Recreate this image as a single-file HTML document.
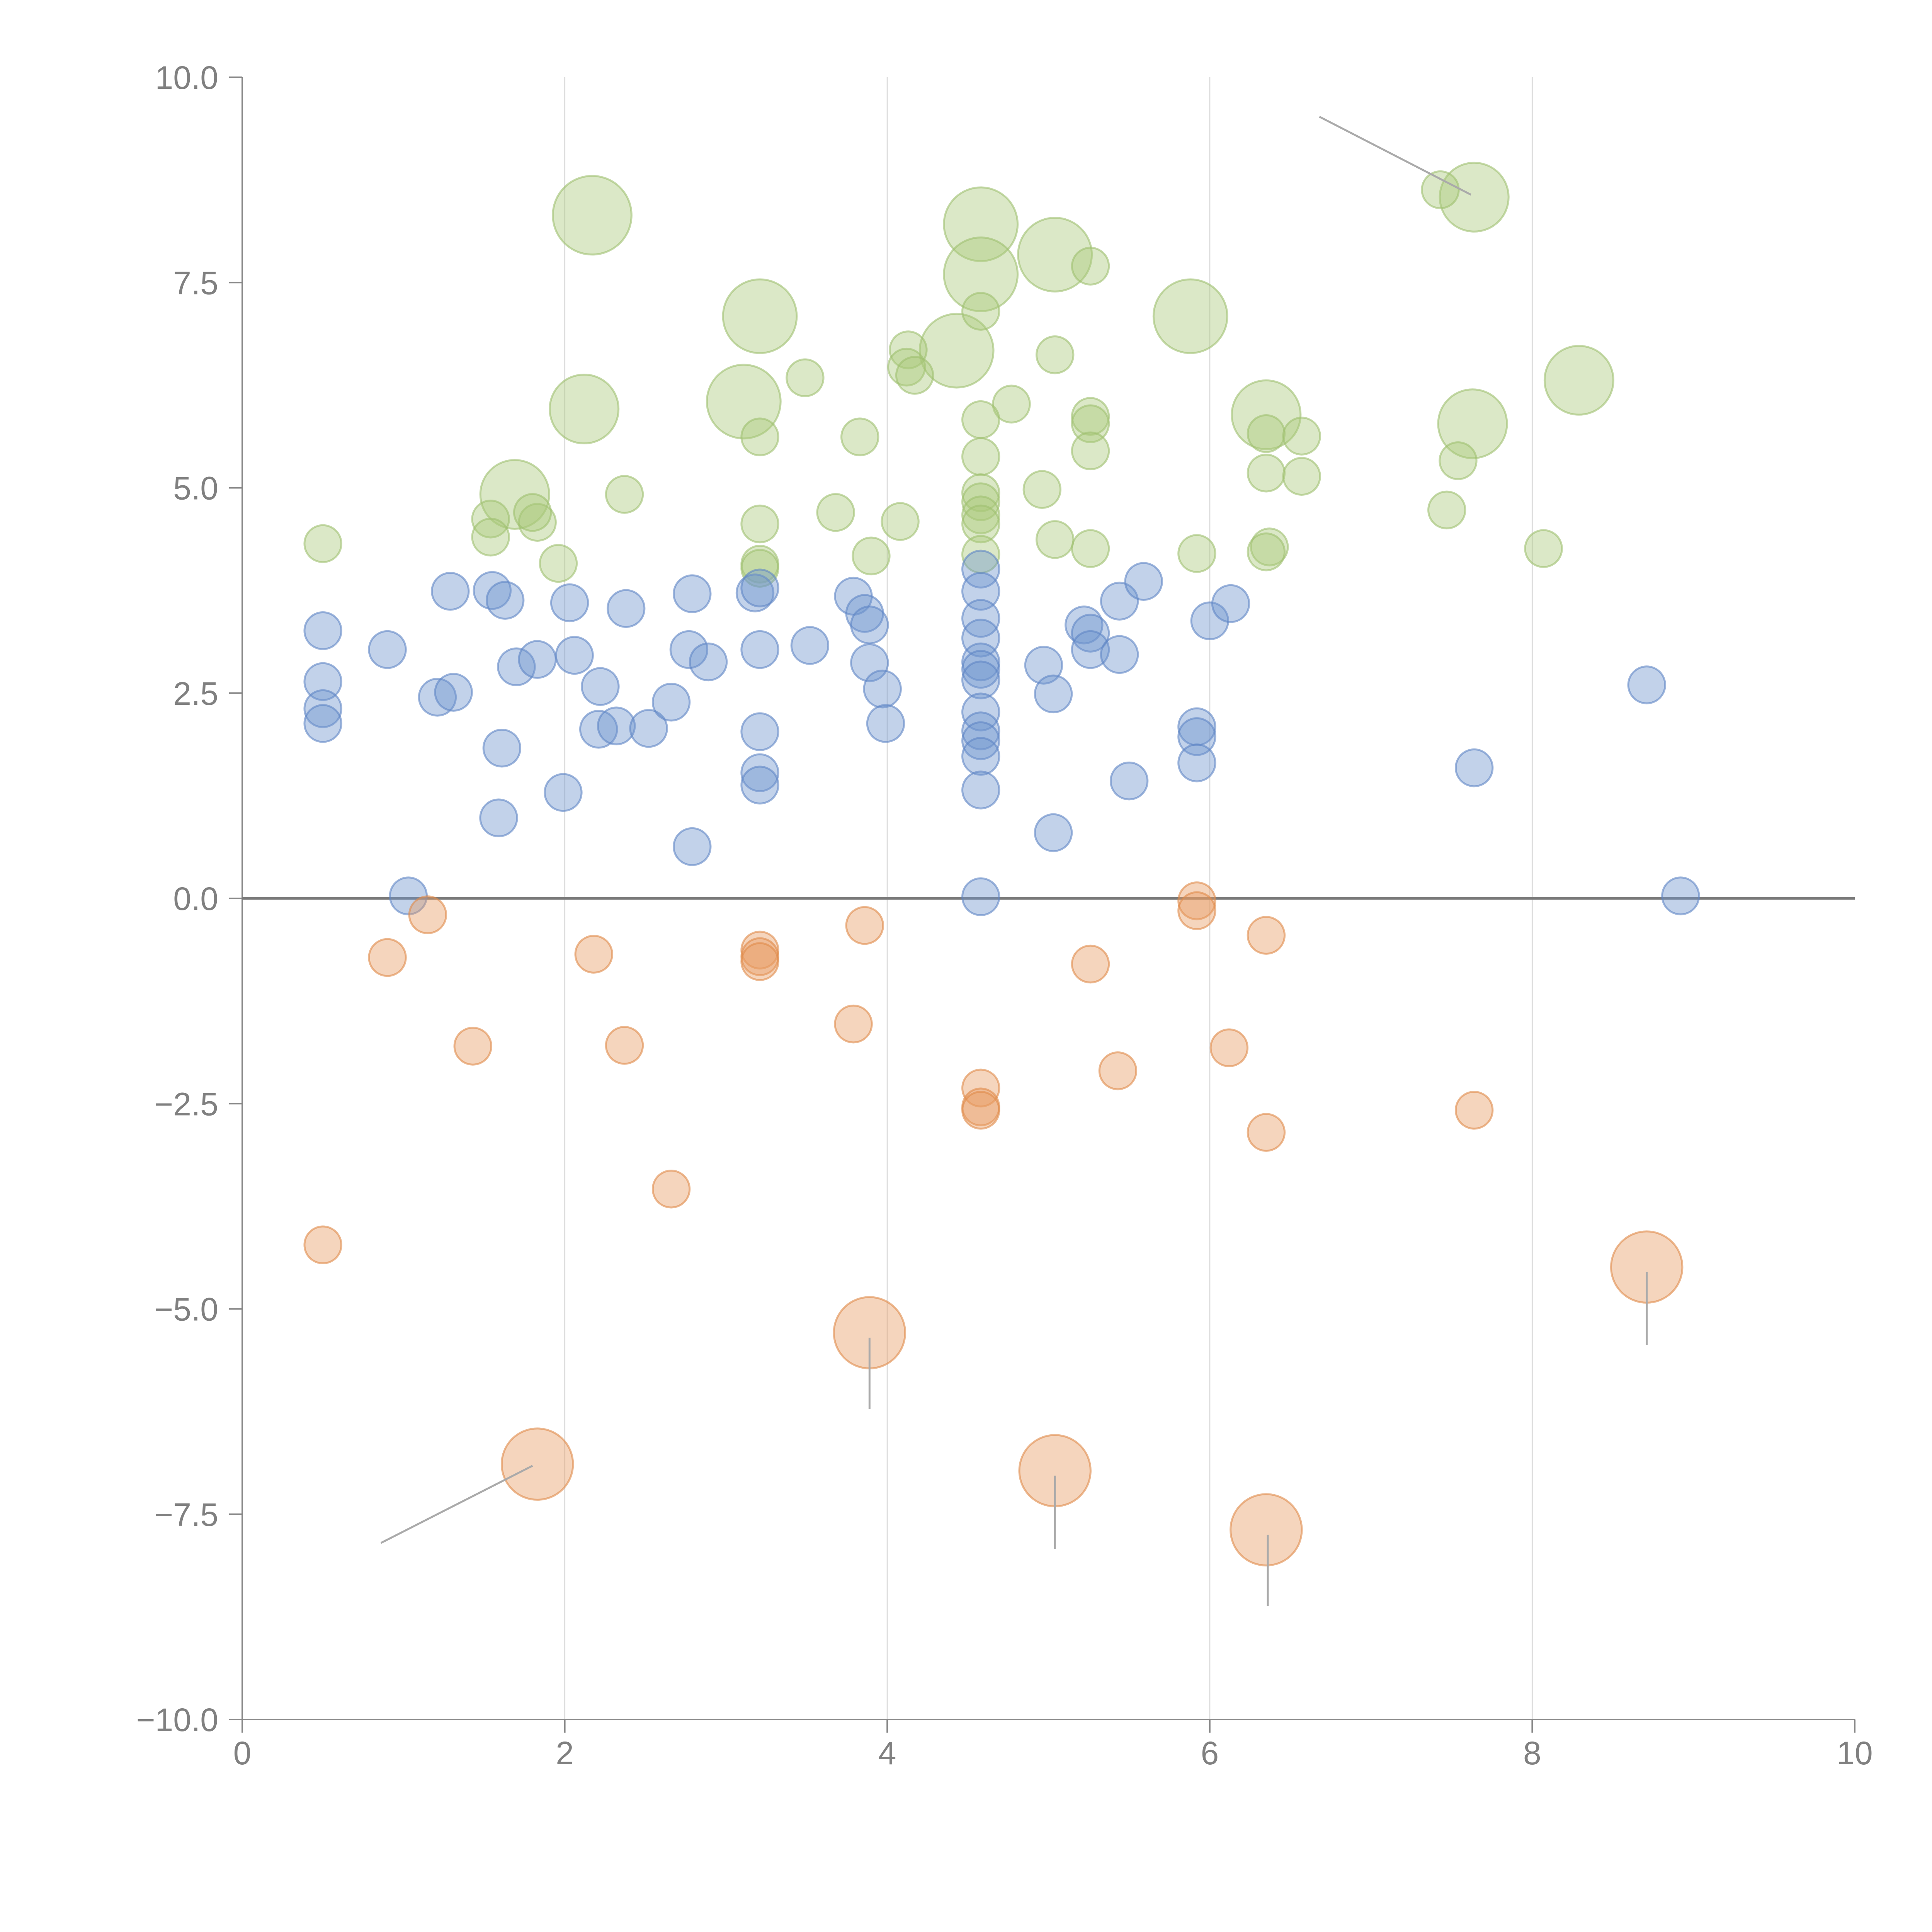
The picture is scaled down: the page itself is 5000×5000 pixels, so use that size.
<!DOCTYPE html>
<html><head><meta charset="utf-8"><style>
html,body{margin:0;padding:0;background:#fff;}
svg{display:block;font-family:"Liberation Sans",sans-serif;}
</style></head><body>
<svg id="chart" width="5000" height="5000" viewBox="0 0 5000 5000" xmlns="http://www.w3.org/2000/svg">
<g id="grid"></g>
<g id="axes"></g>
<g id="marks"></g>
<g id="ann"></g>
</svg>
<script>
const xTicks=[0,2,4,6,8,10];
const xTickLabels=["0","2","4","6","8","10"];
const yTicks=[10,7.5,5,2.5,0,-2.5,-5,-7.5,-10];
const yTickLabels=["10.0","7.5","5.0","2.5","0.0","\u22122.5","\u22125.0","\u22127.5","\u221210.0"];
const greenX=[0.50,2.17,3.21,4.58,4.58,5.04,5.26,5.88,7.64,7.43,8.29,7.63,6.35,4.43,3.11,2.12,1.69,4.58,4.13,4.12,4.17,3.49,5.04,4.77,5.26,5.26,5.26,4.58,4.58,3.83,3.21,6.35,6.57,6.35,6.57,7.54,7.47,8.07,6.37,6.35,5.92,5.26,5.04,4.96,4.58,4.58,4.58,4.58,4.58,4.08,3.90,3.68,3.21,3.21,3.21,2.37,1.96,1.83,1.80,1.54,1.54];
const greenY=[4.32,8.32,7.09,8.21,7.60,7.84,7.70,7.09,8.54,8.63,6.31,5.78,5.89,6.67,6.05,5.96,4.92,7.15,6.68,6.47,6.37,6.34,6.62,6.02,5.87,5.78,5.45,5.83,5.38,5.62,5.62,5.66,5.63,5.18,5.14,5.33,4.73,4.26,4.28,4.22,4.20,4.26,4.37,4.98,4.94,4.83,4.67,4.56,4.19,4.59,4.17,4.70,4.56,4.07,4.02,4.92,4.08,4.58,4.70,4.62,4.40];
const greenS=[15,32,30,30,30,30,15,30,28,15,28,28,28,30,30,28,28,15,15,15,15,15,15,15,15,15,15,15,15,15,15,15,15,15,15,15,15,15,15,15,15,15,15,15,15,15,15,15,15,15,15,15,15,15,15,15,15,15,15,15,15];
const blueX=[0.50,0.50,0.50,0.50,0.90,1.03,1.21,1.31,1.29,1.55,1.63,1.70,1.83,1.61,1.59,1.99,2.03,2.06,2.22,2.21,2.32,2.38,2.52,2.66,2.79,2.77,2.89,2.79,3.18,3.21,3.21,3.21,3.21,3.21,3.52,3.79,3.86,3.89,3.89,3.97,3.99,4.58,4.58,4.58,4.58,4.58,4.58,4.58,4.58,4.58,4.58,4.58,4.58,4.58,4.97,5.03,5.03,5.22,5.26,5.26,5.44,5.44,5.59,5.50,5.92,5.92,5.92,6.00,6.13,7.64,8.71,8.92];
const blueY=[3.26,2.64,2.31,2.13,3.03,0.03,2.45,2.51,3.74,3.75,3.63,2.82,2.91,1.83,0.98,1.29,3.60,2.96,2.58,2.06,2.10,3.53,2.07,2.39,3.71,3.03,2.88,0.63,3.72,3.78,3.03,2.03,1.53,1.38,3.08,3.68,3.47,3.33,2.87,2.55,2.13,4.01,3.74,3.41,3.17,2.88,2.79,2.66,2.27,2.04,1.92,1.73,1.32,0.02,2.84,2.49,0.80,3.33,3.23,3.03,3.62,2.97,3.86,1.43,2.09,1.97,1.65,3.38,3.59,1.59,2.60,0.03];
const orangeX=[0.50,0.90,1.15,1.43,1.83,2.18,2.37,2.66,3.21,3.21,3.21,3.79,3.86,3.89,4.58,4.58,4.58,5.04,5.26,5.43,5.92,5.92,6.12,6.35,6.35,6.35,7.64,8.71];
const orangeY=[-4.22,-0.72,-0.20,-1.80,-6.89,-0.68,-1.79,-3.54,-0.63,-0.71,-0.77,-1.53,-0.33,-5.29,-2.31,-2.54,-2.58,-6.97,-0.80,-2.10,-0.03,-0.15,-1.82,-0.45,-2.85,-7.69,-2.58,-4.49];
const orangeS=[15,15,15,15,29,15,15,15,15,15,15,15,15,29,15,15,15,29,15,15,15,15,15,15,15,29,15,29];
const annX1=[6.68,0.86,3.89,5.04,6.36,8.71];
const annY1=[9.52,-7.85,-5.35,-7.03,-7.75,-4.55];
const annX2=[7.62,1.80,3.89,5.04,6.36,8.71];
const annY2=[8.57,-6.91,-6.22,-7.92,-8.62,-5.44];

const X0=627,X1=4800,Y0=200,Y1=4450;
const sx=v=>X0+(v-0)/(10-0)*(X1-X0);
const sy=v=>Y0+(10-v)/20*(Y1-Y0);
const rs=s=>s*3.18;
const NS="http://www.w3.org/2000/svg";
function mk(tag,attrs,parent){const e=document.createElementNS(NS,tag);for(const k in attrs)e.setAttribute(k,attrs[k]);parent.appendChild(e);return e;}
const grid=document.getElementById('grid'),axes=document.getElementById('axes'),marks=document.getElementById('marks'),ann=document.getElementById('ann');

xTicks.forEach((t,i)=>{
  if(t>0&&t<10){const g=mk('line',{x1:sx(t),x2:sx(t),y1:Y0,y2:Y1,stroke:'#dcdcdc','stroke-width':3},grid);
  
  }
  const tk=mk('line',{x1:sx(t),x2:sx(t),y1:Y1,y2:Y1+34,stroke:'#888','stroke-width':4},axes);
  
  
  const tx=mk('text',{x:sx(t),y:Y1+116,'text-anchor':'middle','font-size':84,fill:'#808080'},axes);
  tx.textContent=xTickLabels[i];
  
  
});
yTicks.forEach((t,i)=>{
  const tk=mk('line',{x1:X0-34,x2:X0,y1:sy(t),y2:sy(t),stroke:'#888','stroke-width':4},axes);
  
  
  const tx=mk('text',{x:565,y:sy(t)+30,'text-anchor':'end','font-size':84,fill:'#808080'},axes);
  tx.textContent=yTickLabels[i];
  
  
});
const ya=mk('line',{x1:X0,x2:X0,y1:Y0,y2:Y1,stroke:'#888','stroke-width':4},axes);


const xa=mk('line',{x1:X0,x2:X1,y1:Y1,y2:Y1,stroke:'#888','stroke-width':4},axes);


const zl=mk('line',{x1:X0,x2:X1,y1:sy(0),y2:sy(0),stroke:'#7a7a7a','stroke-width':7},axes);



function series(xs,ys,ss,fill,stroke,name){
  xs.forEach((x,i)=>{
    const c=mk('circle',{cx:sx(x),cy:sy(ys[i]),r:rs(ss?ss[i]:15),fill:fill,'fill-opacity':0.42,stroke:stroke,'stroke-opacity':0.6,'stroke-width':5},marks);
    
    
  });
}
series(greenX,greenY,greenS,'#a9c87a','#9fc070','green-bubble');
series(blueX,blueY,null,'#6e93cc','#5f86c4','blue-bubble');
series(orangeX,orangeY,orangeS,'#e69a62','#e08a4a','orange-bubble');

annX1.forEach((x,i)=>{
  const l=mk('line',{x1:sx(x),y1:sy(annY1[i]),x2:sx(annX2[i]),y2:sy(annY2[i]),stroke:'#aaa','stroke-width':5},ann);
  
  
});
</script>
</body></html>
